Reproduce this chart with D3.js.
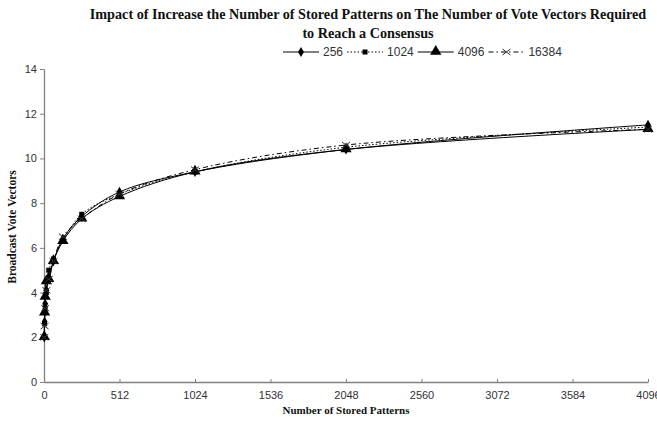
<!DOCTYPE html>
<html>
<head>
<meta charset="utf-8">
<script src="https://cdn.jsdelivr.net/npm/d3@7"></script>
<style>
  body { margin: 0; background: #fff; }
</style>
</head>
<body>
<div id="chart"></div>
<script>
const width = 657, height = 424;
const margin = { top: 69, right: 9, bottom: 42, left: 44 };

// data
const patterns = [2, 4, 8, 16, 32, 64, 128, 256, 512, 1024, 2048, 4096];
const seriesNames = ["256", "1024", "4096", "16384"];
const v256 = [2.0, 2.7, 3.5, 4.1, 4.7, 5.4, 6.4, 7.4, 8.5, 9.4, 10.4, 11.5];
const v1024 = [2.0, 2.6, 3.3, 4.0, 5.0, 5.5, 6.3, 7.5, 8.4, 9.4, 10.5, 11.4];
const v4096 = [2.0, 3.1, 3.8, 4.5, 4.6, 5.4, 6.3, 7.3, 8.3, 9.4, 10.4, 11.3];
const v16384 = [2.0, 2.5, 3.3, 4.1, 4.6, 5.4, 6.5, 7.3, 8.4, 9.5, 10.6, 11.3];
const xTicks = [0, 512, 1024, 1536, 2048, 2560, 3072, 3584, 4096];
const yTicks = [0, 2, 4, 6, 8, 10, 12, 14];

const series = [
  { name: seriesNames[0], values: v256, marker: "diamond", dash: null },
  { name: seriesNames[1], values: v1024, marker: "square", dash: "1.5,2" },
  { name: seriesNames[2], values: v4096, marker: "triangle", dash: null },
  { name: seriesNames[3], values: v16384, marker: "cross", dash: "5,3,1.5,3" }
];

const x = d3.scaleLinear().domain([0, 4096]).range([margin.left, width - margin.right]);
const y = d3.scaleLinear().domain([0, 14]).range([height - margin.bottom, margin.top]);

const svg = d3.select("#chart").append("svg")
  .attr("width", width)
  .attr("height", height);

// title
const title = svg.append("text")
  .attr("text-anchor", "middle")
  .attr("font-family", "Liberation Serif, Times New Roman, serif")
  .attr("font-weight", "bold")
  .attr("font-size", 14.2)
  .attr("fill", "#111");
title.append("tspan").attr("x", 368).attr("y", 19)
  .text("Impact of Increase the Number of Stored Patterns on The Number of Vote Vectors Required");
title.append("tspan").attr("x", 368).attr("y", 38)
  .text("to Reach a Consensus");

// axes
const xAxis = svg.append("g")
  .attr("transform", "translate(0," + y(0) + ")")
  .call(d3.axisBottom(x).tickValues(xTicks).tickFormat(d3.format("d"))
    .tickSizeInner(-3).tickSizeOuter(0).tickPadding(9));
const yAxis = svg.append("g")
  .attr("transform", "translate(" + x(0) + ",0)")
  .call(d3.axisLeft(y).tickValues(yTicks).tickSize(4).tickSizeOuter(0).tickPadding(3));

[xAxis, yAxis].forEach(function (a) {
  a.select(".domain").attr("stroke", "#808080").attr("stroke-width", 1.3);
  a.selectAll(".tick line").attr("stroke", "#808080");
  a.selectAll(".tick text")
    .attr("fill", "#333")
    .attr("font-family", "Liberation Sans, Arial, sans-serif")
    .attr("font-size", 11);
});

// axis titles
svg.append("text")
  .attr("x", 346).attr("y", 414)
  .attr("text-anchor", "middle")
  .attr("font-family", "Liberation Serif, Times New Roman, serif")
  .attr("font-weight", "bold")
  .attr("font-size", 11)
  .attr("fill", "#111")
  .text("Number of Stored Patterns");

svg.append("text")
  .attr("transform", "translate(16,227) rotate(-90)")
  .attr("text-anchor", "middle")
  .attr("font-family", "Liberation Serif, Times New Roman, serif")
  .attr("font-weight", "bold")
  .attr("font-size", 11.5)
  .attr("fill", "#111")
  .text("Broadcast Vote Vectors");

// markers
function drawMarker(g, type, cx, cy) {
  if (type === "diamond") {
    g.append("path").attr("d", d3.symbol(d3.symbolDiamond, 30)())
      .attr("transform", "translate(" + cx + "," + cy + ")").attr("fill", "#000");
  } else if (type === "square") {
    g.append("rect").attr("x", cx - 2.5).attr("y", cy - 2.5)
      .attr("width", 5).attr("height", 5).attr("fill", "#000");
  } else if (type === "triangle") {
    g.append("path").attr("d", d3.symbol(d3.symbolTriangle, 55)())
      .attr("transform", "translate(" + cx + "," + (cy - 0.5) + ")").attr("fill", "#000");
  } else {
    g.append("path")
      .attr("d", "M" + (cx - 4) + "," + (cy - 3) + "L" + (cx + 4) + "," + (cy + 3) +
        "M" + (cx - 4) + "," + (cy + 3) + "L" + (cx + 4) + "," + (cy - 3))
      .attr("stroke", "#333").attr("stroke-width", 1).attr("fill", "none");
  }
}

const line = d3.line()
  .x(function (d) { return x(d[0]); })
  .y(function (d) { return y(d[1]); })
  .curve(d3.curveCatmullRom.alpha(0.5));

const plot = svg.append("g");
series.forEach(function (s) {
  const pts = patterns.map(function (p, i) { return [p, s.values[i]]; });
  plot.append("path")
    .datum(pts)
    .attr("d", line)
    .attr("fill", "none")
    .attr("stroke", "#000")
    .attr("stroke-width", 1)
    .attr("stroke-dasharray", s.dash);
});
series.forEach(function (s) {
  const mg = plot.append("g");
  patterns.forEach(function (p, i) {
    drawMarker(mg, s.marker, x(p), y(s.values[i]));
  });
});

// legend
const legend = svg.append("g");
let lx = 283;
const ly = 52;
series.forEach(function (s) {
  legend.append("line")
    .attr("x1", lx).attr("x2", lx + 36)
    .attr("y1", ly).attr("y2", ly)
    .attr("stroke", "#000").attr("stroke-width", 1)
    .attr("stroke-dasharray", s.dash);
  drawMarker(legend, s.marker, lx + 18, ly);
  const t = legend.append("text")
    .attr("x", lx + 40).attr("y", ly + 4)
    .attr("font-family", "Liberation Sans, Arial, sans-serif")
    .attr("font-size", 12)
    .attr("fill", "#333")
    .text(s.name);
  lx += 40 + t.node().getComputedTextLength() + 4;
});
</script>
</body>
</html>
